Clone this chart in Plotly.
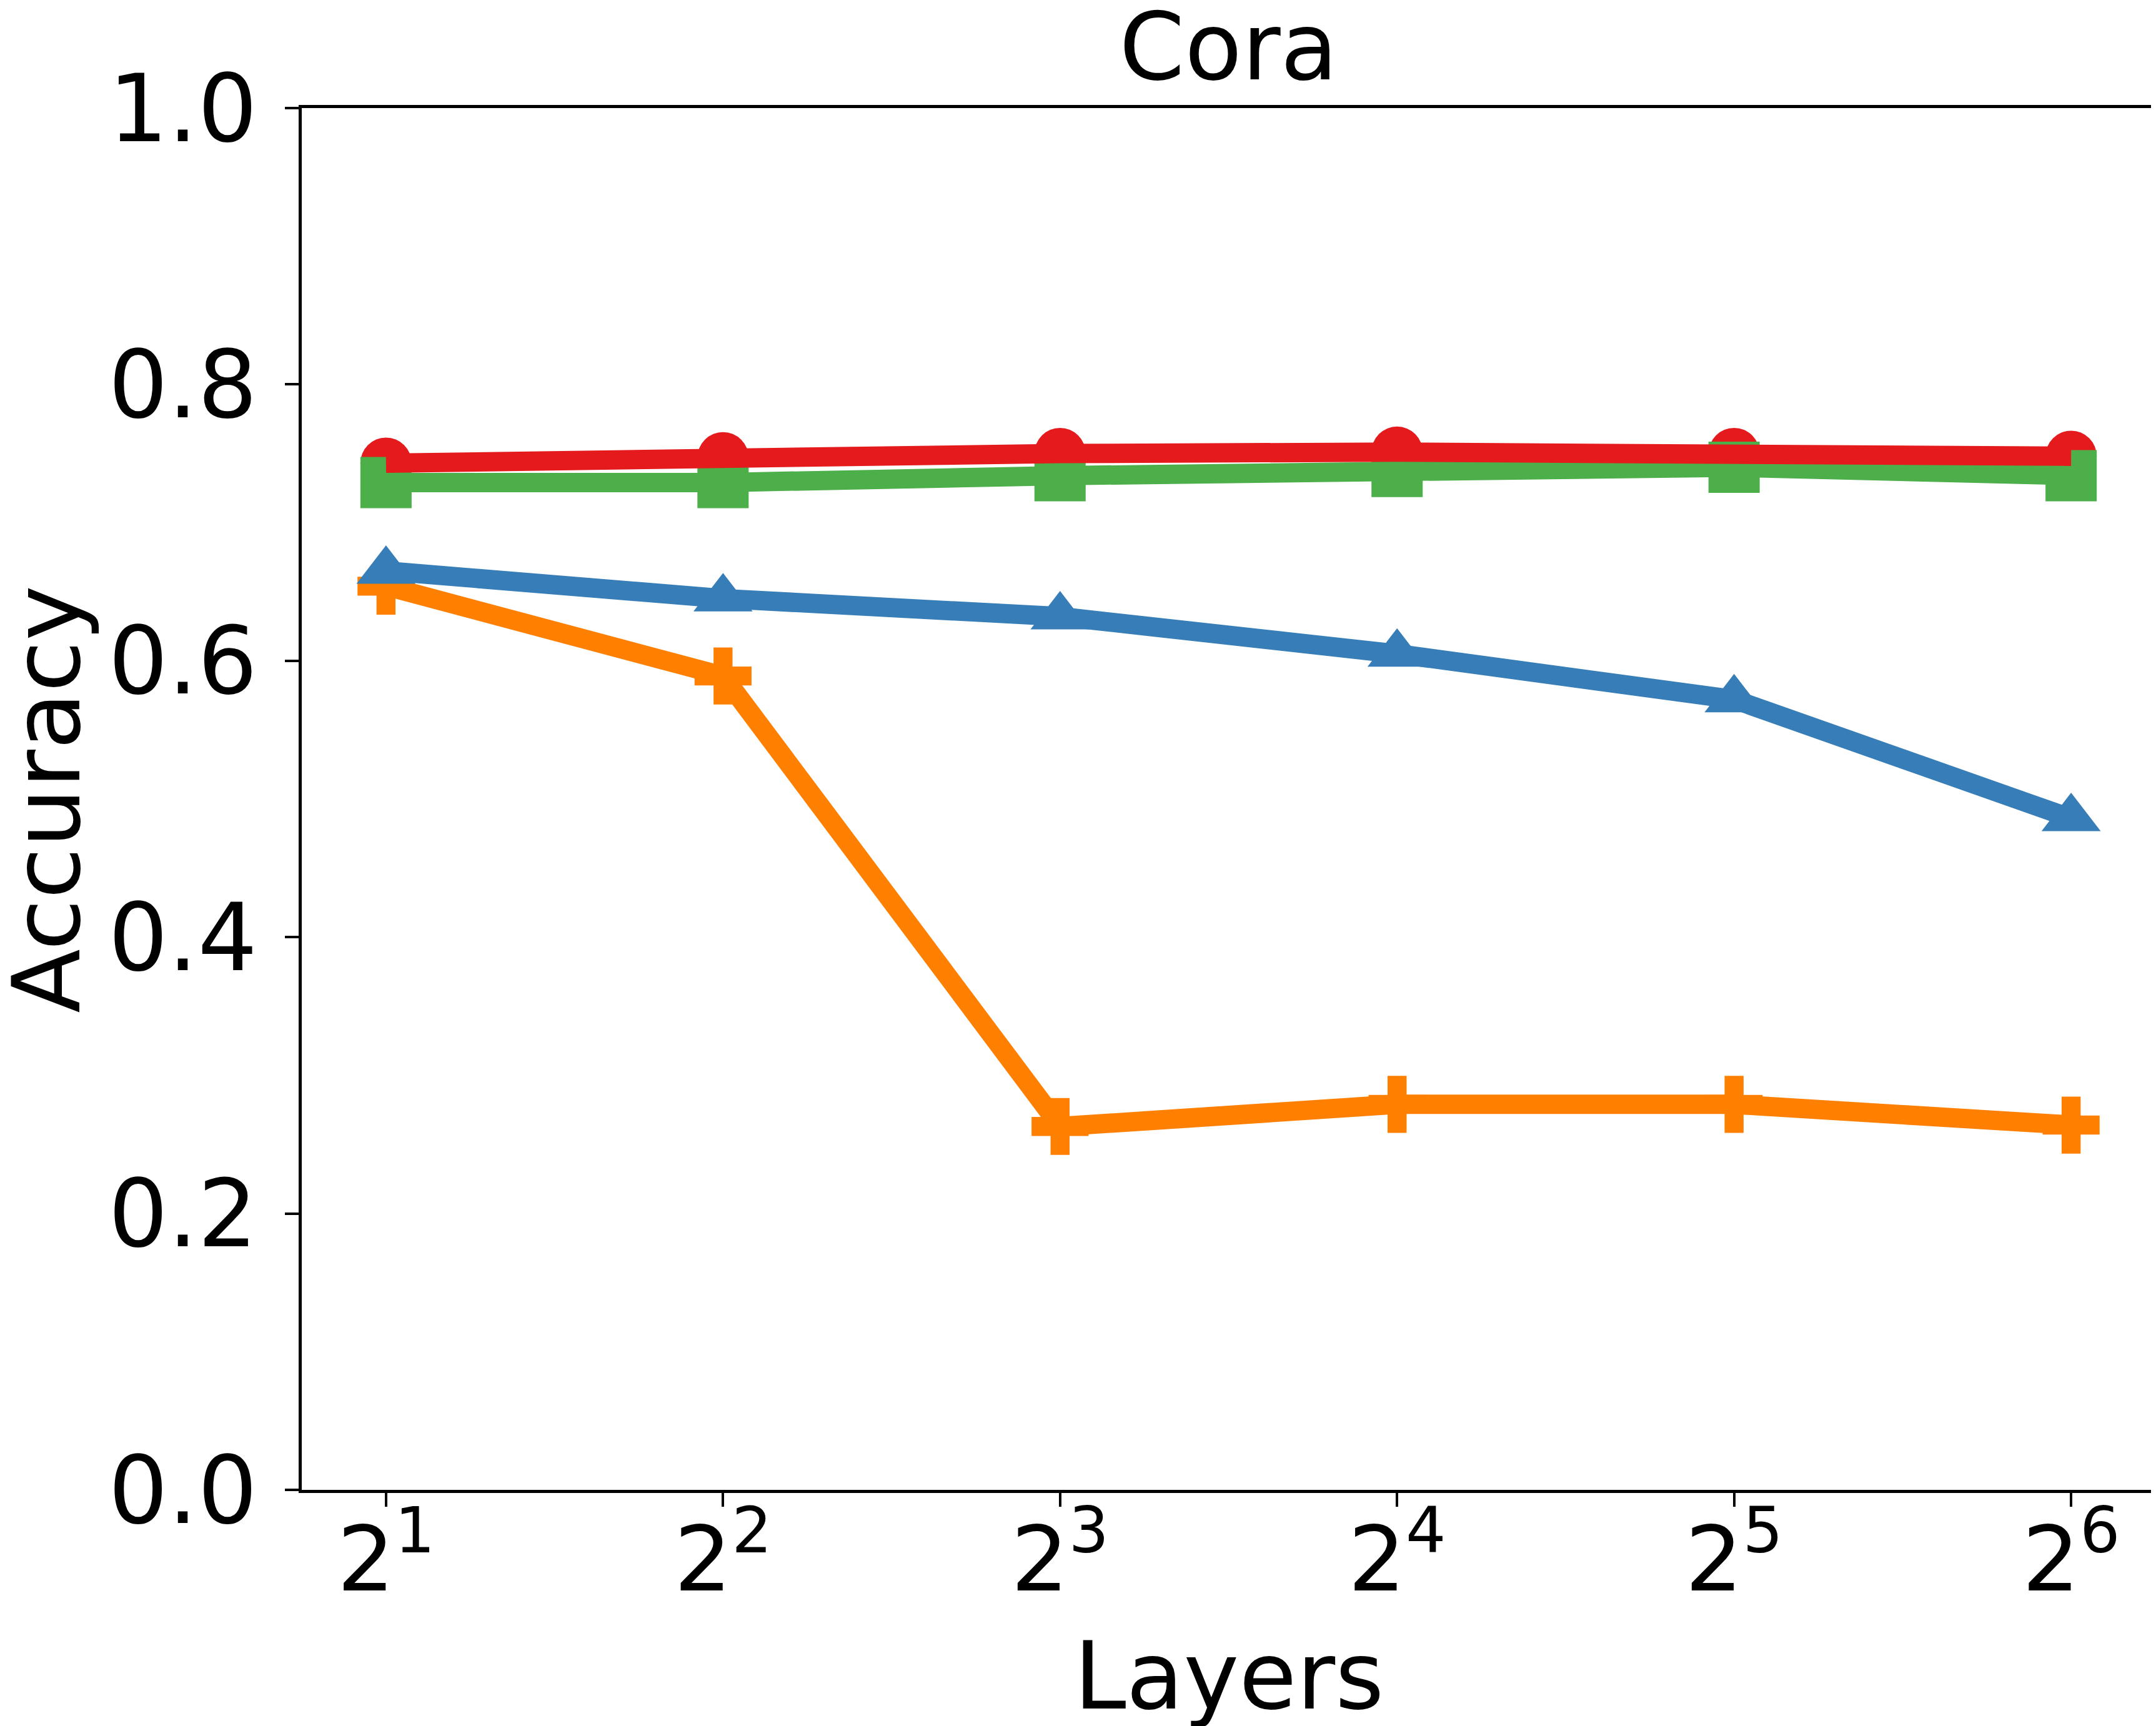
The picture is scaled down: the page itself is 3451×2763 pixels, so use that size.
import plotly.graph_objects as go

# layer counts on the x axis (log2 scale)
layers = [2, 4, 8, 16, 32, 64]
layer_labels = ["2<sup>1</sup>", "2<sup>2</sup>", "2<sup>3</sup>",
                "2<sup>4</sup>", "2<sup>5</sup>", "2<sup>6</sup>"]

# accuracy per method
acc_orange = [0.654, 0.589, 0.263, 0.279, 0.279, 0.264]
acc_blue = [0.665, 0.645, 0.632, 0.605, 0.572, 0.486]
acc_green = [0.729, 0.729, 0.734, 0.737, 0.740, 0.734]
acc_red = [0.743, 0.747, 0.750, 0.751, 0.750, 0.748]

y_ticks = [0.0, 0.2, 0.4, 0.6, 0.8, 1.0]

FONT = "DejaVu Sans"
LW = 31

# (values, colour, symbol, size, mode) in drawing order;
# red markers sit under the green squares, red line on top
layers_draw = [
    (acc_orange, "#ff7f00", "cross", 76, "lines+markers"),
    (acc_blue, "#377eb8", "triangle-up", 82, "lines+markers"),
    (acc_red, "#e41a1c", "circle", 82, "markers"),
    (acc_green, "#4daf4a", "square", 82, "lines+markers"),
    (acc_red, "#e41a1c", "circle", 82, "lines"),
]

fig = go.Figure()
for vals, col, sym, sz, mode in layers_draw:
    fig.add_trace(go.Scatter(
        x=layers, y=vals, mode=mode,
        line=dict(color=col, width=LW),
        marker=dict(color=col, symbol=sym, size=sz, line=dict(width=0)),
        showlegend=False,
    ))

fig.update_layout(
    width=3451, height=2763,
    paper_bgcolor="white", plot_bgcolor="white",
    margin=dict(l=475, r=4, t=165, b=386),
    font=dict(family=FONT, size=150, color="black"),
    title=dict(text="Cora", x=0.5, xref="paper", xanchor="center",
               y=1 - 66 / 2763, yanchor="middle",
               font=dict(family=FONT, size=150, color="black")),
    annotations=[
        dict(text="Accuracy", xref="paper", yref="paper", x=-0.1376, y=0.5,
             textangle=-90, showarrow=False, xanchor="center", yanchor="middle",
             font=dict(family=FONT, size=150, color="black")),
        dict(text="Layers", xref="paper", yref="paper", x=0.5, y=-0.1347,
             showarrow=False, xanchor="center", yanchor="middle",
             font=dict(family=FONT, size=150, color="black")),
    ],
)

fig.update_xaxes(
    type="log", range=[0.75 * 0.30103, 6.25 * 0.30103],
    tickvals=layers, ticktext=layer_labels,
    ticks="outside", ticklen=22, tickwidth=4, tickcolor="black",
    showline=True, linecolor="black", linewidth=5, mirror=True,
    showgrid=False, zeroline=False,
    tickfont=dict(family=FONT, size=145, color="black"),
    ticklabelstandoff=-40,
)
fig.update_yaxes(
    range=[0, 1], tickvals=y_ticks, ticktext=[f"{v:.1f}" for v in y_ticks],
    ticks="outside", ticklen=22, tickwidth=4, tickcolor="black",
    showline=True, linecolor="black", linewidth=5, mirror=True,
    showgrid=False, zeroline=False,
    tickfont=dict(family=FONT, size=150, color="black"),
    ticklabelstandoff=14,
)

fig.write_html("out.html")
